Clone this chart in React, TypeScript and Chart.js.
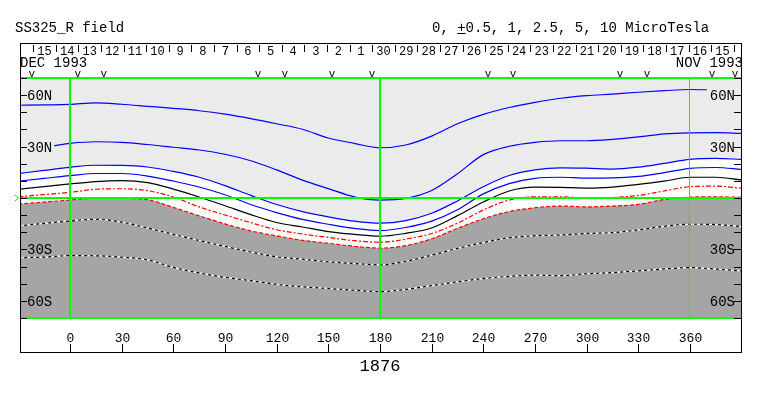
import React, { useEffect, useRef } from "react";
import { Chart, registerables } from "chart.js";

Chart.register(...registerables);

// ---------- data ----------
const lons = [-30, -15, 0, 15, 30, 45, 60, 75, 90, 105, 120, 135, 150, 165, 180, 195, 210, 225, 240, 255, 270, 285, 300, 315, 330, 345, 360, 375, 390];

const blue1 = [54.1, 54.3, 54.6, 55.5, 54.7, 53.5, 52.3, 50.9, 48.9, 46.3, 43.3, 40.1, 35.0, 31.9, 29.3, 30.9, 36.1, 43.3, 48.8, 52.8, 55.8, 58.2, 59.7, 60.6, 61.7, 62.6, 63.3, 63.0, 62.8];
const blue2 = [30.0, 30.0, 31.9, 32.8, 32.5, 31.2, 29.6, 28.0, 25.5, 21.7, 16.4, 10.4, 5.5, 0.7, -1.2, -0.2, 4.4, 14.2, 25.3, 30.2, 32.5, 33.4, 33.4, 34.2, 35.6, 37.4, 38.0, 38.1, 37.7];
const blue3 = [14.3, 16.1, 17.9, 19.1, 19.0, 18.1, 15.5, 12.1, 7.2, 1.5, -3.8, -7.9, -11.0, -13.5, -14.7, -13.2, -8.9, -1.7, 6.6, 13.1, 16.4, 17.6, 17.4, 16.9, 18.0, 20.2, 22.5, 23.1, 22.5];
const blue4 = [9.8, 11.4, 13.0, 14.3, 14.3, 12.8, 9.9, 6.4, 1.9, -3.8, -8.5, -12.5, -15.3, -17.7, -19.0, -17.2, -13.5, -6.9, 2.4, 8.4, 11.5, 12.1, 11.6, 11.7, 12.6, 14.8, 17.3, 17.8, 16.7];
const black0 = [5.1, 6.6, 8.2, 9.6, 10.1, 9.0, 5.2, 0.6, -4.5, -9.7, -14.3, -16.9, -19.6, -21.2, -22.3, -20.6, -17.5, -10.3, -2.3, 4.1, 6.3, 6.2, 5.8, 6.4, 7.9, 9.8, 12.1, 12.1, 10.5];
const red1 = [0.7, 2.0, 3.3, 5.1, 5.4, 4.3, 0.6, -5.2, -9.9, -14.4, -18.5, -21.0, -23.0, -24.9, -25.8, -24.0, -20.7, -14.7, -7.0, -1.2, 0.7, 0.7, -0.1, 0.3, 1.5, 4.1, 6.6, 6.9, 5.7];
const red2 = [-3.6, -2.4, -1.2, 0, -0.2, -1.0, -5.5, -10.4, -15.1, -19.2, -22.1, -24.7, -26.4, -28.2, -29.2, -27.8, -23.8, -17.7, -12.1, -7.9, -5.7, -4.7, -5.2, -4.7, -3.7, -0.9, 0.5, 0.7, 0.4];
const dotted1 = [-16.3, -14.8, -13.4, -12.4, -14.1, -17.5, -21.2, -24.8, -28.2, -31.5, -34.3, -35.7, -37.2, -38.2, -39.0, -36.9, -33.3, -29.4, -26.0, -23.2, -22.0, -21.6, -20.7, -20.2, -18.6, -16.5, -15.3, -15.5, -16.7];
const dotted2 = [-34.8, -34.5, -33.6, -33.7, -34.5, -36.1, -40.5, -43.7, -46.3, -48.2, -50.4, -51.8, -52.8, -53.8, -54.6, -53.3, -51.1, -48.9, -47.0, -45.7, -45.0, -45.3, -44.2, -43.5, -42.5, -41.4, -40.6, -41.5, -42.5];

const xTickValues = [0, 30, 60, 90, 120, 150, 180, 210, 240, 270, 300, 330, 360];
const yLabelValues = [60, 30, -30, -60];
const yLabelTexts = ["60N", "30N", "30S", "60S"];
const dayLabels = ["15", "14", "13", "12", "11", "10", "9", "8", "7", "6", "5", "4", "3", "2", "1", "30", "29", "28", "27", "26", "25", "24", "23", "22", "21", "20", "19", "18", "17", "16", "15"];
const dayStartLon = -21.3;
const dayStepLon = 13.12;
const markerLons = [-22.1, 4.6, 19.7, 109.2, 124.8, 152.1, 175.4, 242.7, 257.3, 319.4, 335.0, 372.8, 386.1];
const greenMeridians = [0, 180, 360];

const titleLeft = "SS325_R field";
const titleRight = "0, +0.5, 1, 2.5, 5, 10 MicroTesla";
const leftDate = "DEC 1993";
const rightDate = "NOV 1993";
const rotationLabel = "1876";

// ---------- styles ----------
const MONO = "'Liberation Mono', 'DejaVu Sans Mono', monospace";
const LIGHT = "#ebebeb";
const DARK = "#a5a5a5";
const GREEN = "#00ff00";

const pts = (arr: number[]) => lons.map((l, i) => ({ x: l, y: arr[i] }));

const overlay = {
  id: "overlay",
  beforeDraw(chart: any) {
    const { ctx, width, height } = chart;
    ctx.save();
    ctx.fillStyle = "#ffffff";
    ctx.fillRect(0, 0, width, height);
    ctx.restore();
  },
  afterDatasetsDraw(chart: any) {
    const { ctx, chartArea: a, scales } = chart;
    const X = (v: number) => scales.x.getPixelForValue(v);
    const Y = (v: number) => scales.y.getPixelForValue(v);
    ctx.save();

    // green lines
    ctx.strokeStyle = GREEN;
    ctx.lineWidth = 2;
    [70, 0, -70].forEach((lat) => {
      const yy = Math.round(Y(lat));
      ctx.beginPath();
      ctx.moveTo(a.left, yy);
      ctx.lineTo(a.right, yy);
      ctx.stroke();
    });
    greenMeridians.forEach((lon) => {
      const xx = X(lon);
      ctx.lineWidth = lon === 360 ? 1 : 2;
      const px = lon === 360 ? Math.round(xx) - 0.5 : Math.round(xx);
      ctx.beginPath();
      ctx.moveTo(px, Y(70));
      ctx.lineTo(px, Y(-70));
      ctx.stroke();
    });
    // small marker at equator on the left
    ctx.lineWidth = 1;
    ctx.beginPath();
    const ey = Math.round(Y(0));
    ctx.moveTo(15, ey - 3);
    ctx.lineTo(18.5, ey);
    ctx.lineTo(15, ey + 3);
    ctx.stroke();

    // y labels with background
    ctx.font = `14px ${MONO}`;
    ctx.textBaseline = "middle";
    yLabelValues.forEach((v, i) => {
      const t = yLabelTexts[i];
      const yy = Math.round(Y(v));
      const w = ctx.measureText(t).width;
      const bg = v > 0 ? LIGHT : DARK;
      ctx.fillStyle = bg;
      ctx.fillRect(a.left + 1, yy - 7, w + 8, 14);
      ctx.fillRect(a.right - 7 - w - 2, yy - 7, w + 9, 14);
      ctx.fillStyle = "#000";
      ctx.textAlign = "left";
      ctx.fillText(t, a.left + 7, yy + 1);
      ctx.textAlign = "right";
      ctx.fillText(t, a.right - 6, yy + 1);
    });

    // y ticks every 10 degrees
    ctx.strokeStyle = "#000";
    ctx.lineWidth = 1;
    for (let v = -70; v <= 70; v += 10) {
      const yy = Math.round(Y(v)) + 0.5;
      ctx.beginPath();
      ctx.moveTo(a.left, yy);
      ctx.lineTo(a.left + 7, yy);
      ctx.moveTo(a.right - 7, yy);
      ctx.lineTo(a.right, yy);
      ctx.stroke();
    }

    // frame
    const top = 43.5;
    const bottom = 352.5;
    ctx.beginPath();
    ctx.moveTo(a.left + 0.5, top);
    ctx.lineTo(a.left + 0.5, bottom);
    ctx.moveTo(a.right + 0.5, top);
    ctx.lineTo(a.right + 0.5, bottom);
    ctx.moveTo(a.left, top);
    ctx.lineTo(a.right + 1, top);
    ctx.moveTo(a.left, bottom);
    ctx.lineTo(a.right + 1, bottom);
    ctx.stroke();

    // x ticks and labels
    ctx.font = `13px ${MONO}`;
    ctx.textAlign = "center";
    ctx.textBaseline = "middle";
    ctx.fillStyle = "#000";
    xTickValues.forEach((v) => {
      const xx = Math.round(X(v)) + 0.5;
      ctx.beginPath();
      ctx.moveTo(xx, 344);
      ctx.lineTo(xx, bottom);
      ctx.stroke();
      ctx.fillText(String(v), xx, 338.5);
    });

    // rotation number
    ctx.font = `17px ${MONO}`;
    ctx.fillText(rotationLabel, X(180), 366);

    // day ticks and labels
    ctx.font = `12px ${MONO}`;
    ctx.textBaseline = "alphabetic";
    for (let i = 0; i <= dayLabels.length; i++) {
      const xx = Math.round(X(dayStartLon + i * dayStepLon)) + 0.5;
      ctx.beginPath();
      ctx.moveTo(xx, 45);
      ctx.lineTo(xx, 52);
      ctx.stroke();
    }
    dayLabels.forEach((d, j) => {
      ctx.fillText(d, X(dayStartLon + (j + 0.5) * dayStepLon), 55);
    });

    // month labels
    ctx.font = `14px ${MONO}`;
    ctx.textAlign = "left";
    ctx.fillText(leftDate, a.left, 67);
    ctx.textAlign = "right";
    ctx.fillText(rightDate, a.right + 2, 67);

    // v markers
    ctx.font = `11px ${MONO}`;
    ctx.textAlign = "center";
    markerLons.forEach((l) => ctx.fillText("v", X(l), 77));

    // titles
    ctx.font = `14px ${MONO}`;
    ctx.textAlign = "left";
    ctx.fillText(titleLeft, 15, 32);
    const tx = 432;
    ctx.fillText(titleRight, tx, 32);
    const pre = ctx.measureText(titleRight.slice(0, 3)).width;
    const pw = ctx.measureText("+").width;
    ctx.beginPath();
    ctx.moveTo(tx + pre, 33.5);
    ctx.lineTo(tx + pre + pw, 33.5);
    ctx.stroke();

    ctx.restore();
  },
};

export default function App() {
  const ref = useRef<HTMLCanvasElement>(null);
  useEffect(() => {
    const base = { pointRadius: 0, borderWidth: 1.2, fill: false, cubicInterpolationMode: "monotone" };
    const chart = new Chart(ref.current as HTMLCanvasElement, {
      type: "line",
      data: {
        datasets: [
          { ...base, data: pts(dotted2), borderColor: "#000", borderDash: [3, 3] },
          { ...base, data: pts(dotted2), borderColor: "#fff" },
          { ...base, data: pts(dotted1), borderColor: "#000", borderDash: [3, 3] },
          { ...base, data: pts(dotted1), borderColor: "#fff" },
          { ...base, data: pts(blue1), borderColor: "#0000ff" },
          { ...base, data: pts(blue2), borderColor: "#0000ff" },
          { ...base, data: pts(blue3), borderColor: "#0000ff", fill: "end", backgroundColor: LIGHT },
          { ...base, data: pts(blue4), borderColor: "#0000ff" },
          { ...base, data: pts(black0), borderColor: "#000000" },
          { ...base, data: pts(red1), borderColor: "#ff0000", borderDash: [5, 2, 2, 2] },
          { ...base, data: pts(red2), borderColor: "#ff0000", borderDash: [4, 2], fill: "start", backgroundColor: DARK },
        ] as any,
      },
      options: {
        responsive: false,
        maintainAspectRatio: false,
        animation: false,
        layout: { padding: { left: 20, right: 22, top: 78, bottom: 78 } },
        scales: {
          x: { type: "linear", min: -29, max: 389.6, display: false },
          y: { type: "linear", min: -70, max: 70, display: false },
        },
        plugins: {
          legend: { display: false },
          tooltip: { enabled: false },
          filler: { drawTime: "beforeDatasetsDraw" },
        } as any,
      },
      plugins: [overlay],
    });
    return () => chart.destroy();
  }, []);
  return (
    <div style={{ position: "fixed", left: 0, top: 0, width: 763, height: 396, background: "#fff" }}>
      <canvas ref={ref} width={763} height={396} style={{ display: "block", width: 763, height: 396 }} />
    </div>
  );
}
